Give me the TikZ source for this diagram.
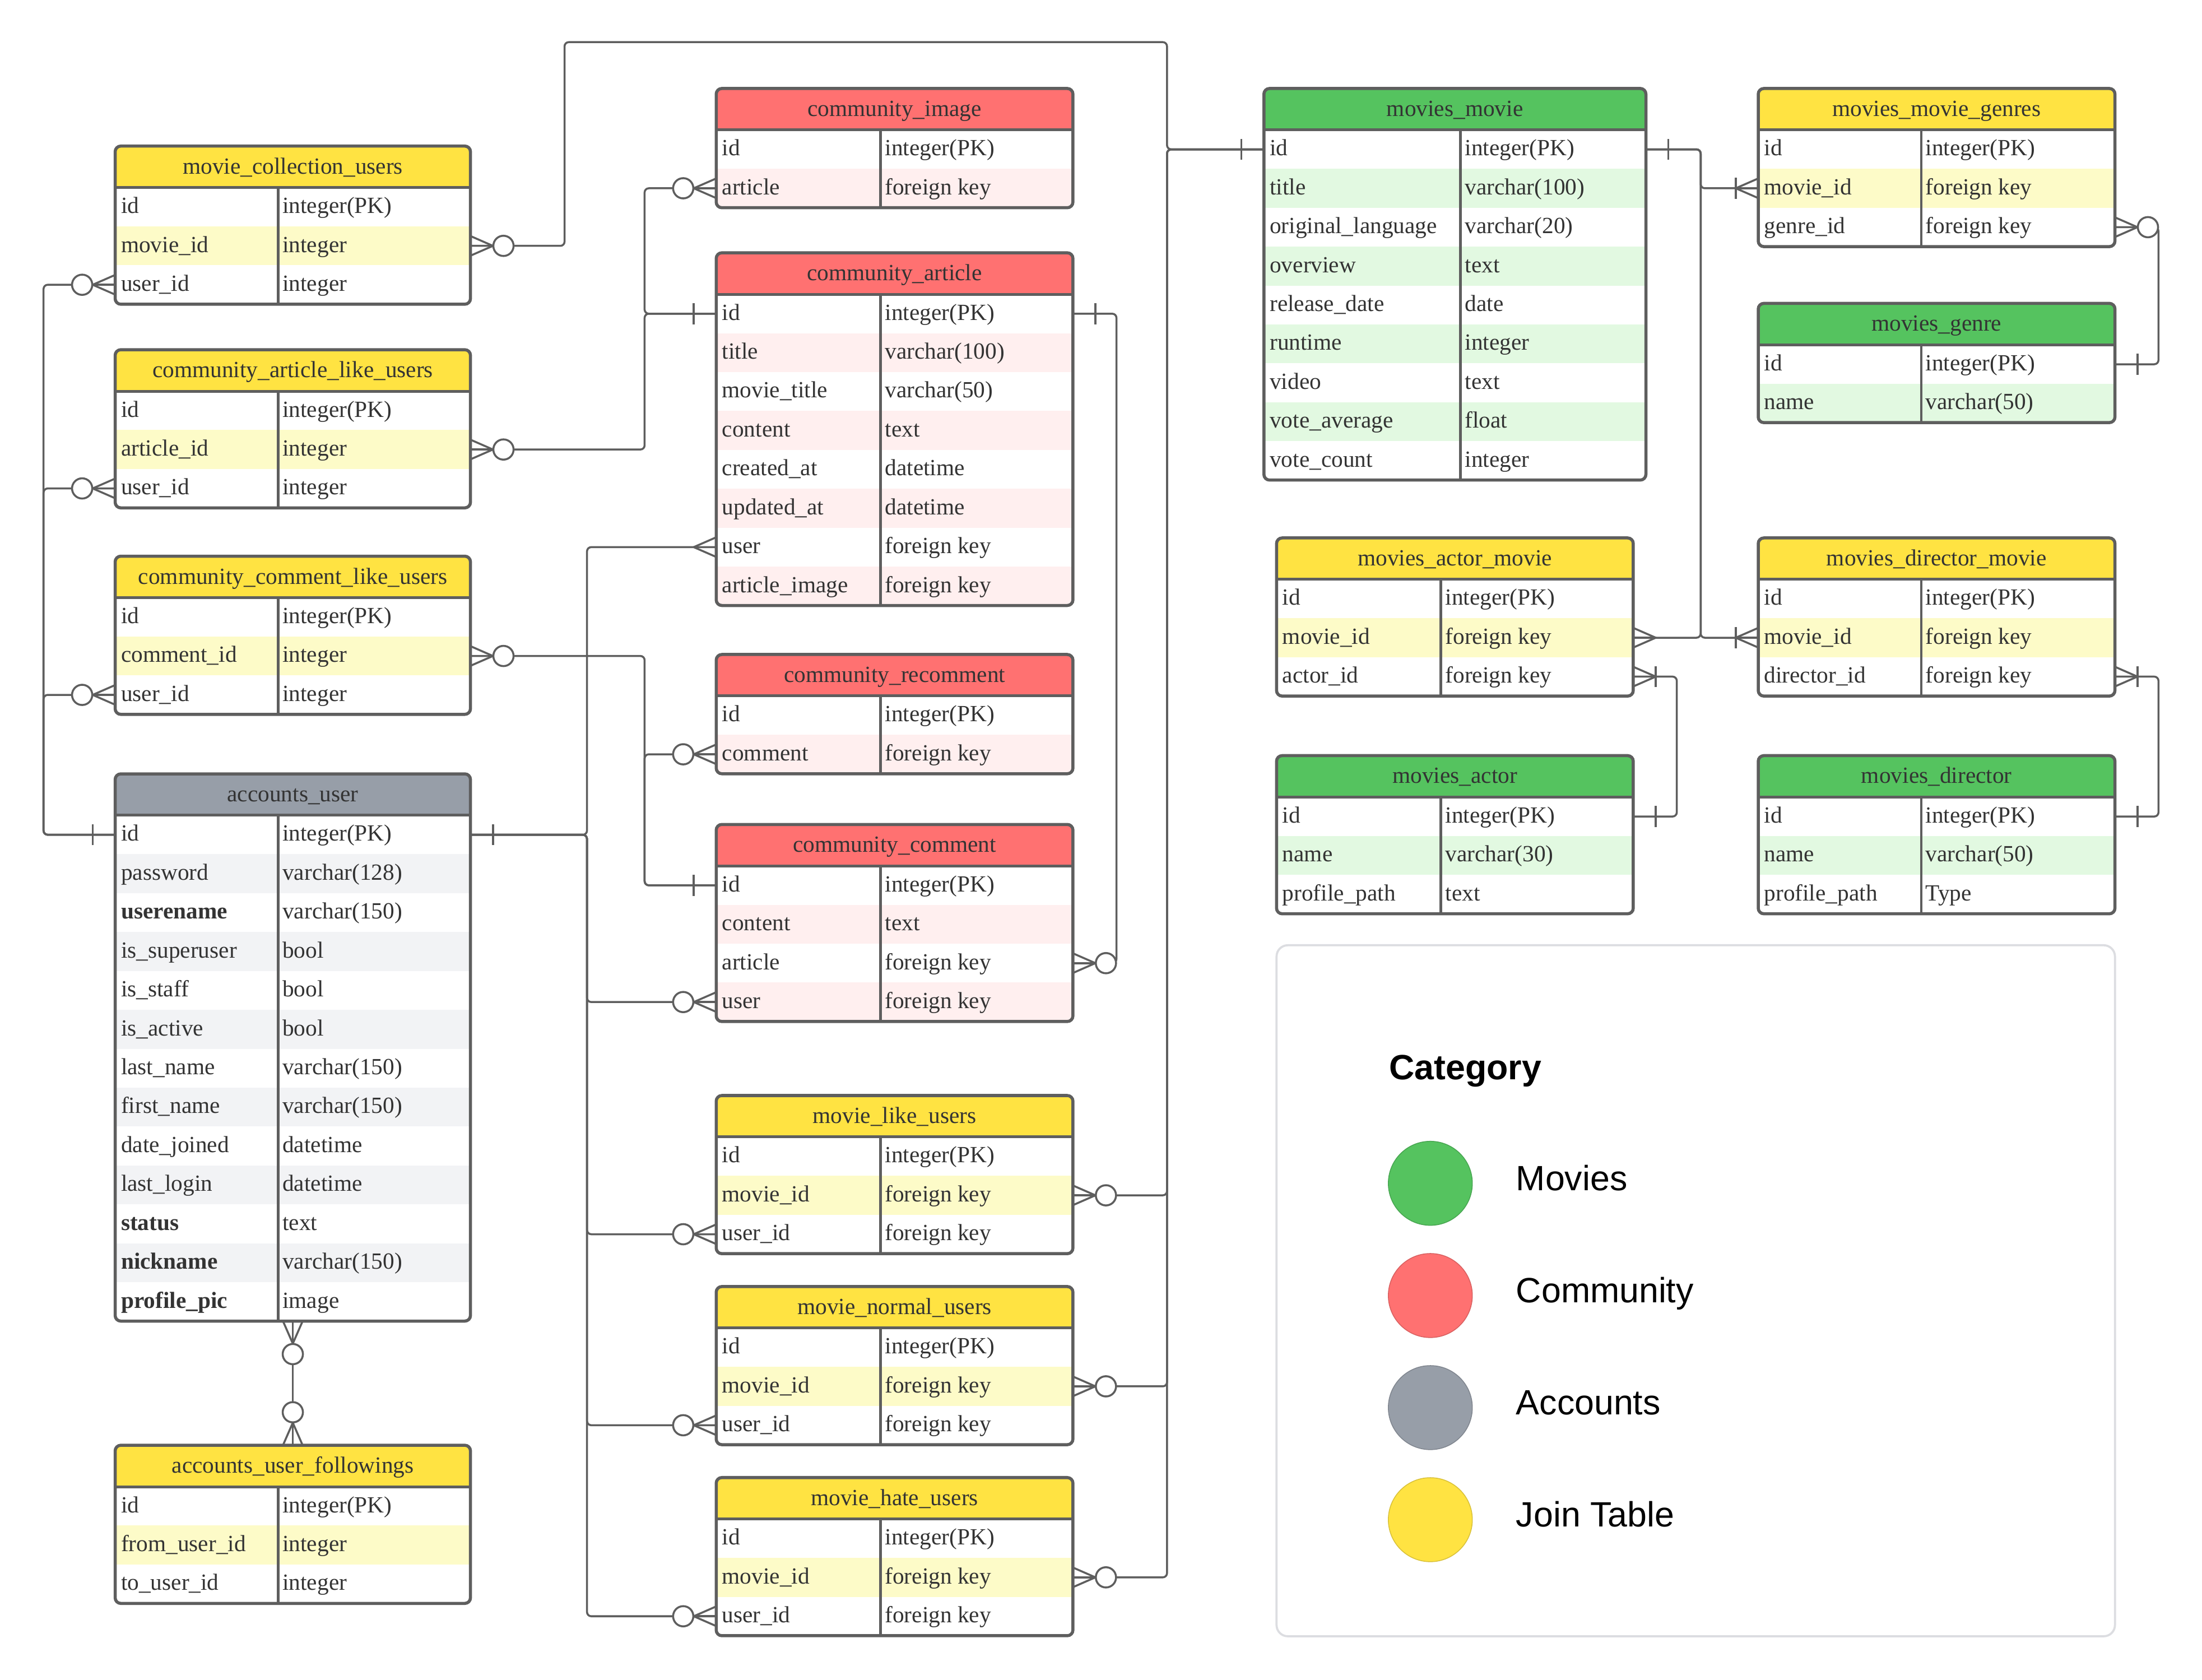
\documentclass[tikz,border=0pt]{standalone}
\usepackage{fontspec}
\setmainfont{Liberation Serif}
\newfontfamily\legendfont{Liberation Sans}
\usetikzlibrary{calc}
\definecolor{bordc}{HTML}{5E5E5E}
\definecolor{linec}{HTML}{5E5E5E}
\definecolor{txtc}{HTML}{333333}
\definecolor{yhead}{HTML}{FFE342}
\definecolor{ylight}{HTML}{FDFBC8}
\definecolor{rhead}{HTML}{FF7171}
\definecolor{rlight}{HTML}{FFEFEF}
\definecolor{ghead}{HTML}{55C35F}
\definecolor{glight}{HTML}{E2F9E1}
\definecolor{ahead}{HTML}{979EA8}
\definecolor{alight}{HTML}{F2F3F5}
\definecolor{legbord}{HTML}{DCDDE1}

\def\erdHH{29.5}
\def\erdRH{27.7}

\tikzset{
  celltxt/.style={anchor=base west, inner sep=0pt, text=txtc, font=\fontsize{16.5}{18}\selectfont},
  headtxt/.style={anchor=base, inner sep=0pt, text=txtc, font=\fontsize{16.5}{18}\selectfont},
  conn/.style={draw=linec, line width=1.4pt, rounded corners=3pt},
  erdmark/.style={draw=linec, line width=1.4pt},
  legtxt/.style={anchor=base west, inner sep=0pt, text=black, font=\legendfont\fontsize{25}{30}\selectfont},
}

% #1 name #2 x #3 ytop #4 width #5 divider offset #6 colour prefix #7 title #8 rows
\newcommand{\erdtab}[8]{%
  \def\erdn{0}%
  \foreach \fa/\fb [count=\ii] in {#8}{\xdef\erdn{\ii}}%
  \pgfmathsetmacro\erdbot{#3+\erdHH+\erdn*\erdRH}%
  \begin{scope}
    \clip[rounded corners=4pt] (#2,#3) rectangle ({#2+#4},\erdbot);
    \fill[white] (#2,#3) rectangle ({#2+#4},\erdbot);
    \fill[#6head] (#2,#3) rectangle ({#2+#4},{#3+\erdHH});
    \foreach \fa/\fb [count=\ii] in {#8}{%
      \ifodd\ii\else
        \fill[#6light] (#2,{#3+\erdHH+(\ii-1)*\erdRH}) rectangle ({#2+#4},{#3+\erdHH+\ii*\erdRH});
      \fi
    }
  \end{scope}
  \draw[bordc, line width=2pt] (#2,{#3+\erdHH}) -- ({#2+#4},{#3+\erdHH});
  \draw[bordc, line width=1.8pt] ({#2+#5},{#3+\erdHH}) -- ({#2+#5},\erdbot);
  \draw[bordc, line width=2.2pt, rounded corners=4pt] (#2,#3) rectangle ({#2+#4},\erdbot);
  \node[headtxt] (#1) at ({#2+#4/2},{#3+\erdHH/2+5}) {#7};
  \coordinate (#1-top) at ({#2+#4/2},#3);
  \coordinate (#1-bot) at ({#2+#4/2},\erdbot);
  \foreach \fa/\fb [count=\ii] in {#8}{%
    \node[celltxt] (#1-f\ii) at ({#2+4},{#3+\erdHH+(\ii-0.5)*\erdRH+4.5}) {\fa};
    \node[celltxt] (#1-t\ii) at ({#2+#5+3},{#3+\erdHH+(\ii-0.5)*\erdRH+4.5}) {\fb};
    \coordinate (#1-\ii-l) at (#2,{#3+\erdHH+(\ii-0.5)*\erdRH});
    \coordinate (#1-\ii-r) at ({#2+#4},{#3+\erdHH+(\ii-0.5)*\erdRH});
  }%
}

% markers: #1 coordinate, #2 outward angle
\newcommand{\erdcrow}[2]{%
  \begin{scope}[shift={(#1)}, rotate=#2]
    \draw[erdmark] (0,7) -- (16,0) -- (0,-7);
    \draw[erdmark] (0,0) -- (16,0);
  \end{scope}}
\newcommand{\erdzmany}[2]{%
  \begin{scope}[shift={(#1)}, rotate=#2]
    \draw[erdmark] (0,7) -- (16,0) -- (0,-7);
    \draw[erdmark] (0,0) -- (16,0);
    \draw[erdmark, fill=white] (23.5,0) circle (7.2);
  \end{scope}}
\newcommand{\erdone}[2]{%
  \begin{scope}[shift={(#1)}, rotate=#2]
    \draw[erdmark] (16,-7.5) -- (16,7.5);
  \end{scope}}
\newcommand{\erdonemany}[2]{%
  \begin{scope}[shift={(#1)}, rotate=#2]
    \draw[erdmark] (0,7) -- (16,0) -- (0,-7);
    \draw[erdmark] (0,0) -- (16,0);
    \draw[erdmark] (16,-7.5) -- (16,7.5);
  \end{scope}}

\begin{document}
\begin{tikzpicture}[x=1pt, y=-1pt]
\useasboundingbox (0,0) rectangle (1568,1196.1);
\fill[white] (0,0) rectangle (1568,1196.1);

% ---------------- tables ----------------
\erdtab{mcu}{82}{104}{253}{116}{y}{movie\_collection\_users}{id/integer(PK), movie\_id/integer, user\_id/integer}
\erdtab{cal}{82}{249}{253}{116}{y}{community\_article\_like\_users}{id/integer(PK), article\_id/integer, user\_id/integer}
\erdtab{ccl}{82}{396}{253}{116}{y}{community\_comment\_like\_users}{id/integer(PK), comment\_id/integer, user\_id/integer}
\erdtab{au}{82}{551}{253}{116}{a}{accounts\_user}{id/integer(PK), password/varchar(128), \textbf{userename}/varchar(150), is\_superuser/bool, is\_staff/bool, is\_active/bool, last\_name/varchar(150), first\_name/varchar(150), date\_joined/datetime, last\_login/datetime, \textbf{status}/text, \textbf{nickname}/varchar(150), \textbf{profile\_pic}/image}
\erdtab{auf}{82}{1029}{253}{116}{y}{accounts\_user\_followings}{id/integer(PK), from\_user\_id/integer, to\_user\_id/integer}

\erdtab{ci}{510}{63}{254}{117}{r}{community\_image}{id/integer(PK), article/foreign key}
\erdtab{ca}{510}{180}{254}{117}{r}{community\_article}{id/integer(PK), title/varchar(100), movie\_title/varchar(50), content/text, created\_at/datetime, updated\_at/datetime, user/foreign key, article\_image/foreign key}
\erdtab{cr}{510}{466}{254}{117}{r}{community\_recomment}{id/integer(PK), comment/foreign key}
\erdtab{cc}{510}{587}{254}{117}{r}{community\_comment}{id/integer(PK), content/text, article/foreign key, user/foreign key}
\erdtab{mlu}{510}{780}{254}{117}{y}{movie\_like\_users}{id/integer(PK), movie\_id/foreign key, user\_id/foreign key}
\erdtab{mnu}{510}{916}{254}{117}{y}{movie\_normal\_users}{id/integer(PK), movie\_id/foreign key, user\_id/foreign key}
\erdtab{mhu}{510}{1052}{254}{117}{y}{movie\_hate\_users}{id/integer(PK), movie\_id/foreign key, user\_id/foreign key}

\erdtab{mm}{900}{63}{272}{140}{g}{movies\_movie}{id/integer(PK), title/varchar(100), original\_language/varchar(20), overview/text, release\_date/date, runtime/integer, video/text, vote\_average/float, vote\_count/integer}
\erdtab{mmg}{1252}{63}{254}{116}{y}{movies\_movie\_genres}{id/integer(PK), movie\_id/foreign key, genre\_id/foreign key}
\erdtab{mg}{1252}{216}{254}{116}{g}{movies\_genre}{id/integer(PK), name/varchar(50)}
\erdtab{mam}{909}{383}{254}{117}{y}{movies\_actor\_movie}{id/integer(PK), movie\_id/foreign key, actor\_id/foreign key}
\erdtab{mdm}{1252}{383}{254}{116}{y}{movies\_director\_movie}{id/integer(PK), movie\_id/foreign key, director\_id/foreign key}
\erdtab{ma}{909}{538}{254}{117}{g}{movies\_actor}{id/integer(PK), name/varchar(30), profile\_path/text}
\erdtab{md}{1252}{538}{254}{116}{g}{movies\_director}{id/integer(PK), name/varchar(50), profile\_path/Type}

% ---------------- routing coordinates ----------------
\coordinate (leftX) at (31,0);
\coordinate (mcuX) at (402,0);
\coordinate (userX) at (418,0);
\coordinate (artX) at (459,0);
\coordinate (caX) at (795,0);
\coordinate (mvX) at (831,0);
\coordinate (topY) at (0,30);
\coordinate (mmX) at (1211,0);
\coordinate (actX) at (1194,0);
\coordinate (gX) at (1537,0);

% ---------------- connectors ----------------
\draw[conn] (au-1-l) -| (mcu-3-l -| leftX) -- (mcu-3-l);
\draw[conn] (au-1-l) -| (cal-3-l -| leftX) -- (cal-3-l);
\draw[conn] (au-1-l) -| (ccl-3-l -| leftX) -- (ccl-3-l);

\draw[conn] (au-1-r) -| (ca-7-l -| userX) -- (ca-7-l);
\draw[conn] (au-1-r) -| (cc-4-l -| userX) -- (cc-4-l);
\draw[conn] (au-1-r) -| (mlu-3-l -| userX) -- (mlu-3-l);
\draw[conn] (au-1-r) -| (mnu-3-l -| userX) -- (mnu-3-l);
\draw[conn] (au-1-r) -| (mhu-3-l -| userX) -- (mhu-3-l);

\draw[conn] (cal-2-r) -| (ca-1-l -| artX) -- (ca-1-l);
\draw[conn] (ci-2-l) -| (ca-1-l -| artX) -- (ca-1-l);

\draw[conn] (ccl-2-r) -| (cc-1-l -| artX) -- (cc-1-l);
\draw[conn] (cr-2-l) -| (cc-1-l -| artX) -- (cc-1-l);

\draw[conn] (cc-3-r) -| (ca-1-r -| caX) -- (ca-1-r);

\draw[conn] (mcu-2-r) -| (mcuX |- topY) -| (mm-1-l -| mvX) -- (mm-1-l);
\draw[conn] (mlu-2-r) -| (mm-1-l -| mvX) -- (mm-1-l);
\draw[conn] (mnu-2-r) -| (mm-1-l -| mvX) -- (mm-1-l);
\draw[conn] (mhu-2-r) -| (mm-1-l -| mvX) -- (mm-1-l);

\draw[conn] (au-bot) -- (auf-top);

\draw[conn] (mm-1-r) -| (mmg-2-l -| mmX) -- (mmg-2-l);
\draw[conn] (mm-1-r) -| (mam-2-r -| mmX) -- (mam-2-r);
\draw[conn] (mm-1-r) -| (mdm-2-l -| mmX) -- (mdm-2-l);
\draw[conn] (mmg-3-r) -| (mg-1-r -| gX) -- (mg-1-r);
\draw[conn] (mam-3-r) -| (ma-1-r -| actX) -- (ma-1-r);
\draw[conn] (mdm-3-r) -| (md-1-r -| gX) -- (md-1-r);

% ---------------- end markers ----------------
\erdzmany{mcu-2-r}{0} \erdzmany{mcu-3-l}{180}
\erdzmany{cal-2-r}{0} \erdzmany{cal-3-l}{180}
\erdzmany{ccl-2-r}{0} \erdzmany{ccl-3-l}{180}
\erdone{au-1-l}{180} \erdone{au-1-r}{0}
\erdzmany{au-bot}{-90} \erdzmany{auf-top}{90}
\erdzmany{ci-2-l}{180}
\erdone{ca-1-l}{180} \erdone{ca-1-r}{0} \erdcrow{ca-7-l}{180}
\erdzmany{cr-2-l}{180}
\erdone{cc-1-l}{180} \erdzmany{cc-3-r}{0} \erdzmany{cc-4-l}{180}
\erdzmany{mlu-2-r}{0} \erdzmany{mlu-3-l}{180}
\erdzmany{mnu-2-r}{0} \erdzmany{mnu-3-l}{180}
\erdzmany{mhu-2-r}{0} \erdzmany{mhu-3-l}{180}
\erdone{mm-1-l}{180} \erdone{mm-1-r}{0}
\erdonemany{mmg-2-l}{180} \erdzmany{mmg-3-r}{0}
\erdone{mg-1-r}{0}
\erdcrow{mam-2-r}{0} \erdonemany{mam-3-r}{0}
\erdonemany{mdm-2-l}{180} \erdonemany{mdm-3-r}{0}
\erdone{ma-1-r}{0} \erdone{md-1-r}{0}

% ---------------- legend ----------------
\draw[legbord, line width=1.5pt, rounded corners=8pt] (909,673) rectangle (1506,1165);
\node[legtxt, font=\legendfont\bfseries\fontsize{25}{30}\selectfont] (legcat) at (989,768.8) {Category};
\node[circle, minimum size=59.8pt, inner sep=0pt, fill=ghead, draw=ghead!85!black, line width=0.6pt] (legg) at (1018.5,842.5) {};
\node[circle, minimum size=59.8pt, inner sep=0pt, fill=rhead, draw=rhead!85!black, line width=0.6pt] (legr) at (1018.5,922.4) {};
\node[circle, minimum size=59.8pt, inner sep=0pt, fill=ahead, draw=ahead!85!black, line width=0.6pt] (lega) at (1018.5,1002.2) {};
\node[circle, minimum size=59.8pt, inner sep=0pt, fill=yhead, draw=yhead!85!black, line width=0.6pt] (legy) at (1018.5,1082) {};
\node[legtxt] (legmovies) at (1079.4,847.7) {Movies};
\node[legtxt] (legcomm) at (1079.4,927.6) {Community};
\node[legtxt] (legacc) at (1079.4,1007.4) {Accounts};
\node[legtxt] (legjoin) at (1079.4,1087.2) {Join Table};
\end{tikzpicture}
\end{document}
